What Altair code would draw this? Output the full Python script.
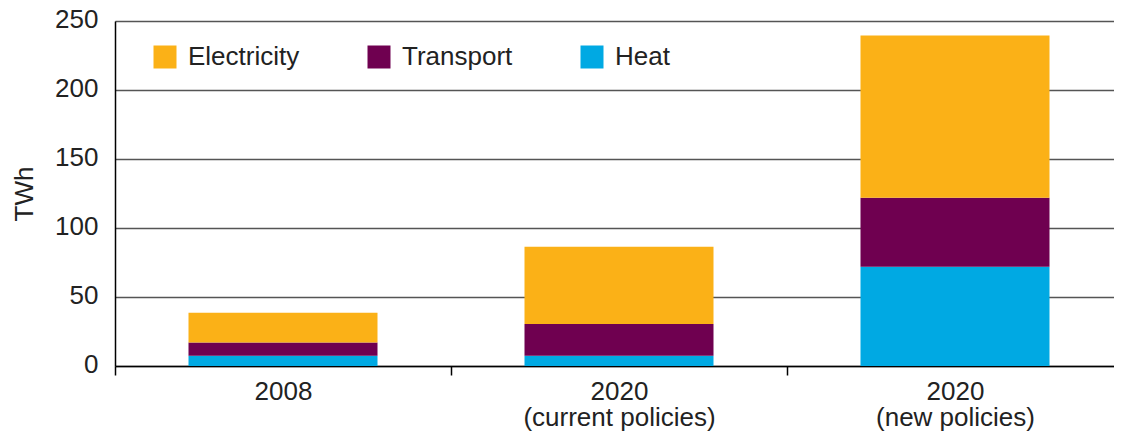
import altair as alt
import pandas as pd

categories = ["2008", "2020|(current policies)", "2020|(new policies)"]
series = ["Electricity", "Transport", "Heat"]
colors = ["#FBB117", "#6F0050", "#00A9E3"]
heat = [7.5, 7.5, 72]
transport = [9.5, 23, 50]
electricity = [21.5, 56, 117.5]
y_ticks = [0, 50, 100, 150, 200, 250]

rows = []
for i, c in enumerate(categories):
    rows.append({"cat": c, "series": "Heat", "value": heat[i], "ord": 0})
    rows.append({"cat": c, "series": "Transport", "value": transport[i], "ord": 1})
    rows.append({"cat": c, "series": "Electricity", "value": electricity[i], "ord": 2})
df = pd.DataFrame(rows)

FONT = "Liberation Sans"
TXT = "#222222"

chart = (
    alt.Chart(df)
    .mark_bar(width=alt.RelativeBandSize(0.5625))
    .encode(
        x=alt.X(
            "cat:N",
            sort=categories,
            title=None,
            scale=alt.Scale(paddingInner=0, paddingOuter=0, range=[0, 1008]),
            axis=alt.Axis(
                labelAngle=0,
                labelFontSize=26,
                labelLineHeight=26,
                labelColor=TXT,
                labelFont=FONT,
                labelLimit=400,
                labelExpr="split(datum.label, '|')",
                tickBand="extent",
                tickSize=9,
                tickColor="#000000",
                tickWidth=1.5,
                domainColor="#000000",
                domainWidth=1.5,
                labelPadding=3,
                grid=False,
            ),
        ),
        y=alt.Y(
            "value:Q",
            stack="zero",
            scale=alt.Scale(domain=[0, 250], nice=False),
            axis=alt.Axis(
                values=y_ticks,
                title="TWh",
                titleFont=FONT,
                titleFontSize=26,
                titleFontWeight="normal",
                titleColor=TXT,
                titleAngle=270,
                titleBaseline="alphabetic",
                titleX=-83,
                titleY=172.5,
                labelFont=FONT,
                labelFontSize=26,
                labelColor=TXT,
                labelPadding=17,
                labelBaseline="alphabetic",
                labelOffset=6,
                ticks=False,
                grid=True,
                gridColor="#555555",
                gridWidth=1.5,
                domainColor="#000000",
                domainWidth=1.5,
            ),
        ),
        color=alt.Color(
            "series:N",
            scale=alt.Scale(domain=series, range=colors),
            legend=alt.Legend(
                title=None,
                orient="none",
                legendX=37,
                legendY=23,
                direction="horizontal",
                symbolType="square",
                symbolSize=529,
                symbolStrokeWidth=0,
                symbolOpacity=1,
                labelFont=FONT,
                labelFontSize=26,
                labelColor=TXT,
                labelOffset=10,
                columnPadding=66,
                labelLimit=300,
            ),
        ),
        order=alt.Order("ord:Q", sort="ascending"),
    )
    .properties(
        width=999,
        height=345,
        autosize=alt.AutoSizeParams(type="none"),
        padding={"left": 107, "top": 13, "right": 0, "bottom": 68},
    )
    .configure_view(stroke=None)
    .configure(font=FONT)
)

chart.save("out.html", embed_options={"renderer": "svg", "actions": False})
